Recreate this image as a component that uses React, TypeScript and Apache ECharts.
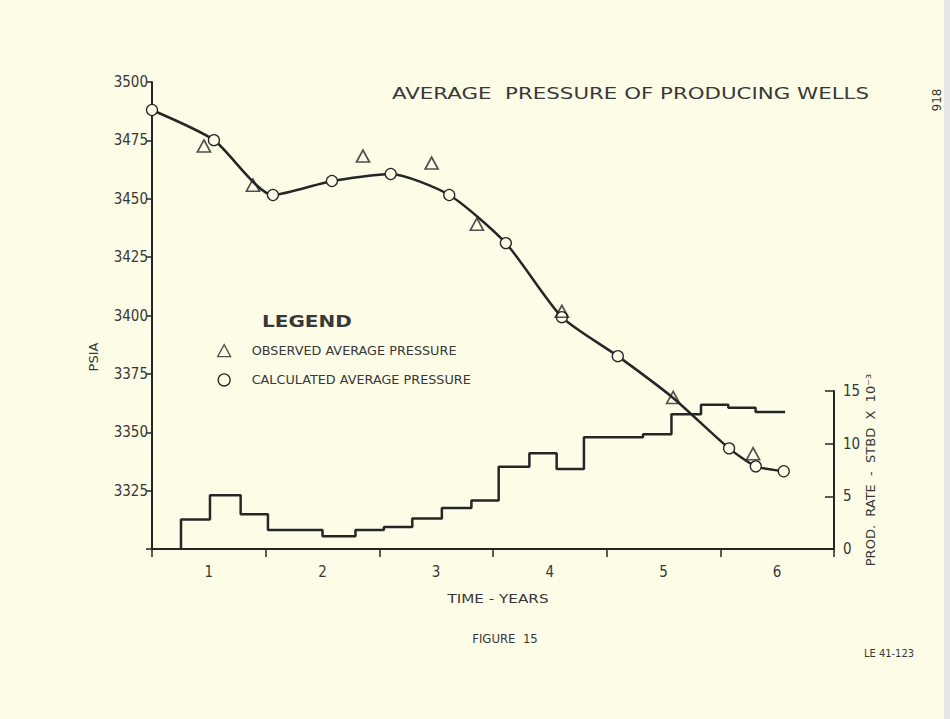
import React, { useEffect, useRef } from "react";
import * as echarts from "echarts";

// ---- data ----
// calculated average pressure (time in years, psia)
const CALC_T = [0.5, 1.045, 1.564, 2.083, 2.6, 3.115, 3.613, 4.106, 4.598, 5.085, 5.577, 5.812, 6.058];
const CALC_P = [3488.0, 3475.1, 3451.6, 3457.6, 3460.6, 3451.6, 3431.0, 3399.3, 3382.6, 3364.7, 3343.1, 3335.4, 3333.3];
// index of the calculated point hidden under an observed triangle
const CALC_HIDDEN = [9];

// observed average pressure
const OBS_T = [0.957, 1.388, 2.356, 2.96, 3.358, 4.106, 5.085, 5.788];
const OBS_P = [3472.6, 3455.8, 3468.3, 3465.3, 3439.1, 3401.8, 3364.9, 3340.8];

// production rate, STBD x 10^-3, stepwise (start of each period)
const PROD_START = [0.755, 1.01, 1.28, 1.52, 2.0, 2.29, 2.54, 2.79, 3.05, 3.31, 3.55, 3.82, 4.06, 4.3, 4.82, 5.07, 5.33, 5.57, 5.81];
const PROD_RATE = [2.8, 5.1, 3.3, 1.8, 1.2, 1.8, 2.1, 2.9, 3.9, 4.6, 7.8, 9.1, 7.6, 10.6, 10.9, 12.8, 13.7, 13.4, 13.0];
const PROD_END = 6.07;

const X_LABELS = [1, 2, 3, 4, 5, 6];
const PSIA_TICKS = [3325, 3350, 3375, 3400, 3425, 3450, 3475, 3500];
const RATE_TICKS = [0, 5, 10, 15];

const TITLE = "AVERAGE  PRESSURE OF PRODUCING WELLS";
const OBS_NAME = "OBSERVED AVERAGE PRESSURE";
const CALC_NAME = "CALCULATED AVERAGE PRESSURE";

const BG = "#fcfce7";
const INK = "#262626";
const TXT = "#383838";
const COND = "'DejaVu Sans Condensed', 'Liberation Sans Narrow', 'DejaVu Sans', sans-serif";
const WIDE = "'DejaVu Sans', 'Noto Sans', sans-serif";

export default function App() {
  const ref = useRef<HTMLDivElement>(null);

  useEffect(() => {
    if (!ref.current) return;
    const chart = echarts.init(ref.current, null, { renderer: "svg" });

    const calcData = CALC_T.map((t, i) =>
      CALC_HIDDEN.includes(i)
        ? { value: [t, CALC_P[i]], symbolSize: 0 }
        : { value: [t, CALC_P[i]] }
    );
    const obsData = OBS_T.map((t, i) => [t, OBS_P[i]]);
    const prodData: number[][] = [[PROD_START[0], 0]];
    PROD_START.forEach((t, i) => prodData.push([t, PROD_RATE[i]]));
    prodData.push([PROD_END, PROD_RATE[PROD_RATE.length - 1]]);

    const gridL = 152;
    const gridR = 950 - 834;
    const gridB = 719 - 549;

    chart.setOption({
      animation: false,
      backgroundColor: BG,
      grid: [
        { left: gridL, right: gridR, top: 82, bottom: gridB },
        { left: gridL, right: gridR, top: 391, bottom: gridB },
      ],
      xAxis: [
        {
          gridIndex: 0,
          type: "value",
          position: "bottom",
          min: 0.5,
          max: 6.5,
          interval: 0.5,
          axisLine: { show: true, lineStyle: { color: INK, width: 2 } },
          axisTick: { show: false },
          splitLine: { show: false },
          axisLabel: {
            margin: 15,
            color: TXT,
            fontFamily: COND,
            fontSize: 15,
            formatter: (v: number) => (X_LABELS.includes(v) ? String(v) : ""),
          },
        },
        {
          gridIndex: 0,
          type: "value",
          position: "bottom",
          min: 0,
          max: 6,
          interval: 1,
          axisLine: { show: false },
          axisTick: { show: true, length: 8, lineStyle: { color: INK, width: 1.5 } },
          axisLabel: { show: false },
          splitLine: { show: false },
        },
        {
          gridIndex: 1,
          type: "value",
          min: 0.5,
          max: 6.5,
          show: false,
        },
      ],
      yAxis: [
        {
          gridIndex: 0,
          type: "value",
          min: 3300,
          max: 3500,
          interval: 25,
          axisLine: { show: true, lineStyle: { color: INK, width: 2 } },
          axisTick: { show: true, length: 6, lineStyle: { color: INK, width: 1.5 } },
          splitLine: { show: false },
          axisLabel: {
            margin: 4,
            color: TXT,
            fontFamily: COND,
            fontSize: 15,
            formatter: (v: number) => (PSIA_TICKS.includes(v) ? String(v) : ""),
          },
        },
        {
          gridIndex: 1,
          type: "value",
          position: "right",
          min: 0,
          max: 15,
          interval: 5,
          axisLine: { show: true, lineStyle: { color: INK, width: 2 } },
          axisTick: { show: true, inside: true, length: 9, lineStyle: { color: INK, width: 1.5 } },
          splitLine: { show: false },
          axisLabel: {
            margin: 9,
            color: TXT,
            fontFamily: COND,
            fontSize: 15,
            formatter: (v: number) => (RATE_TICKS.includes(v) ? String(v) : ""),
          },
        },
      ],
      legend: {
        orient: "vertical",
        left: 212,
        top: 339,
        itemWidth: 13,
        itemHeight: 12,
        itemGap: 16,
        selectedMode: false,
        textStyle: {
          color: TXT,
          fontFamily: WIDE,
          fontSize: 12.8,
          padding: [0, 0, 0, 16],
        },
        data: [
          { name: OBS_NAME, icon: "triangle", itemStyle: { color: "rgba(0,0,0,0)", borderColor: INK, borderWidth: 1.3 } },
          { name: CALC_NAME, icon: "circle", itemStyle: { color: "rgba(0,0,0,0)", borderColor: INK, borderWidth: 1.3 } },
        ],
      },
      series: [
        {
          name: "PRODUCTION RATE",
          type: "line",
          xAxisIndex: 2,
          yAxisIndex: 1,
          step: "end",
          symbol: "none",
          data: prodData,
          lineStyle: { color: INK, width: 2.5 },
          z: 2,
        },
        {
          name: CALC_NAME,
          type: "line",
          xAxisIndex: 0,
          yAxisIndex: 0,
          smooth: 0.22,
          symbol: "circle",
          symbolSize: 11,
          showAllSymbol: true,
          data: calcData,
          lineStyle: { color: INK, width: 2.5 },
          itemStyle: { color: BG, borderColor: INK, borderWidth: 1.3 },
          z: 3,
        },
        {
          name: OBS_NAME,
          type: "scatter",
          xAxisIndex: 0,
          yAxisIndex: 0,
          symbol: "triangle",
          symbolSize: [13, 12],
          data: obsData,
          itemStyle: { color: "rgba(0,0,0,0)", borderColor: INK, borderWidth: 1.7 },
          z: 4,
        },
      ],
      graphic: [
        {
          type: "text",
          x: 392,
          y: 93,
          scaleX: 1.335,
          style: { text: TITLE, fill: TXT, font: `16px ${WIDE}`, verticalAlign: "middle" },
        },
        {
          type: "text",
          x: 262,
          y: 321,
          scaleX: 1.25,
          style: { text: "LEGEND", fill: TXT, font: `bold 16px ${WIDE}`, verticalAlign: "middle" },
        },
        {
          type: "text",
          x: 93,
          y: 357,
          rotation: Math.PI / 2,
          style: { text: "PSIA", fill: TXT, font: `13px ${WIDE}`, align: "center", verticalAlign: "middle" },
        },
        {
          type: "text",
          x: 870,
          y: 470,
          rotation: Math.PI / 2,
          style: { text: "PROD.  RATE  -  STBD  X  10⁻³", fill: TXT, font: `13px ${WIDE}`, align: "center", verticalAlign: "middle" },
        },
        {
          type: "text",
          x: 498,
          y: 599,
          scaleX: 1.3,
          style: { text: "TIME - YEARS", fill: TXT, font: `13px ${COND}`, align: "center", verticalAlign: "middle" },
        },
        {
          type: "text",
          x: 505,
          y: 638,
          style: { text: "FIGURE  15", fill: TXT, font: `13px ${COND}`, align: "center", verticalAlign: "middle" },
        },
        {
          type: "text",
          x: 889,
          y: 653,
          style: { text: "LE 41-123", fill: TXT, font: `11px ${COND}`, align: "center", verticalAlign: "middle" },
        },
        {
          type: "text",
          x: 937,
          y: 100,
          rotation: Math.PI / 2,
          style: { text: "918", fill: TXT, font: `12px ${WIDE}`, align: "center", verticalAlign: "middle" },
        },
        {
          type: "rect",
          shape: { x: 944, y: 0, width: 6, height: 719 },
          style: { fill: "#e4e7e6" },
        },
      ],
    });

    return () => chart.dispose();
  }, []);

  return (
    <div
      ref={ref}
      style={{ position: "absolute", left: 0, top: 0, width: 950, height: 719 }}
    />
  );
}
